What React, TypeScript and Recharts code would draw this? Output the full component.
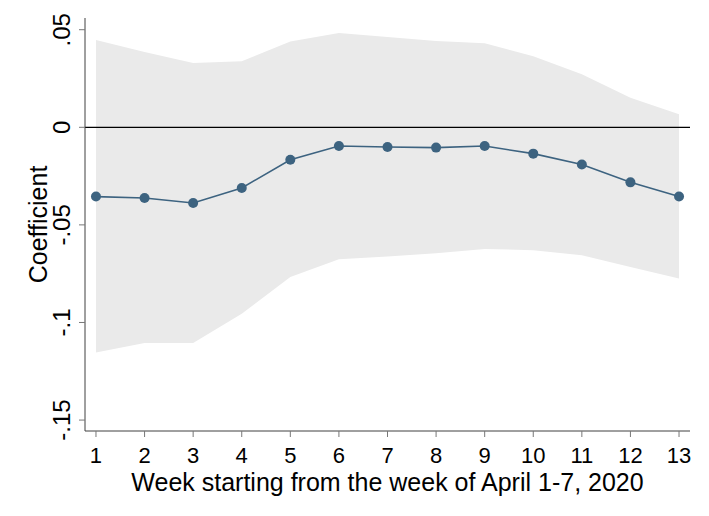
import React from "react";
import {
  Area,
  ComposedChart,
  Line,
  ReferenceLine,
  XAxis,
  YAxis,
  Label,
} from "recharts";

const weeks = [1, 2, 3, 4, 5, 6, 7, 8, 9, 10, 11, 12, 13];
const coef = [
  -0.0355, -0.0362, -0.0388, -0.0311, -0.0166, -0.0096, -0.0101, -0.0104,
  -0.0096, -0.0135, -0.0191, -0.0282, -0.0355,
];
const ciLow = [
  -0.1154, -0.1105, -0.1105, -0.0955, -0.0767, -0.0676, -0.0662, -0.0645,
  -0.0623, -0.063, -0.0656, -0.0716, -0.0775,
];
const ciHigh = [
  0.0447, 0.0386, 0.0329, 0.0338, 0.0439, 0.0483, 0.0463, 0.0442, 0.043,
  0.0364, 0.0272, 0.0152, 0.0067,
];
const yTicks = [-0.15, -0.1, -0.05, 0, 0.05];

const rows = weeks.map((w, i) => ({
  week: w,
  coef: coef[i],
  ci: [ciLow[i], ciHigh[i]],
}));

const FONT = "'Liberation Sans', Arial, sans-serif";

function stataNum(v: number): string {
  if (v === 0) return "0";
  const s = String(Math.round(v * 1000) / 1000);
  return s.replace("0.", ".");
}

// y tick labels read bottom-to-top, like Stata
function YTick(props: any) {
  const { y, payload } = props;
  const bx = 70;
  return (
    <text
      x={bx}
      y={y}
      transform={`rotate(-90 ${bx} ${y})`}
      textAnchor="middle"
      fontSize={24}
      fontFamily={FONT}
      fill="#000"
    >
      {stataNum(payload.value)}
    </text>
  );
}

function XTick(props: any) {
  const { x, payload } = props;
  return (
    <text
      x={x}
      y={463}
      textAnchor="middle"
      fontSize={22}
      fontFamily={FONT}
      fill="#000"
    >
      {payload.value}
    </text>
  );
}

function XTitle(props: any) {
  const { viewBox } = props;
  const cx = viewBox.x + viewBox.width / 2;
  return (
    <text x={cx} y={491} textAnchor="middle" fontSize={25} fontFamily={FONT} fill="#000">
      Week starting from the week of April 1-7, 2020
    </text>
  );
}

function YTitle(props: any) {
  const { viewBox } = props;
  const cy = viewBox.y + viewBox.height / 2;
  const bx = 47;
  return (
    <text
      x={bx}
      y={cy}
      transform={`rotate(-90 ${bx} ${cy})`}
      textAnchor="middle"
      fontSize={25}
      fontFamily={FONT}
      fill="#000"
    >
      Coefficient
    </text>
  );
}

export default function App() {
  return (
    <div style={{ position: "absolute", left: 0, top: 0, background: "#fff" }}>
      <ComposedChart
        width={709}
        height={516}
        data={rows}
        margin={{ top: 18, right: 19, left: 0, bottom: 0 }}
      >
        <Area
          dataKey="ci"
          type="linear"
          stroke="none"
          fill="#eaeaea"
          fillOpacity={1}
          isAnimationActive={false}
        />
        <ReferenceLine y={0} stroke="#000" strokeWidth={1.3} />
        <Line
          dataKey="coef"
          type="linear"
          stroke="#3d6380"
          strokeWidth={1.6}
          dot={{ r: 5, fill: "#3d6380", stroke: "#3d6380", strokeWidth: 0 }}
          isAnimationActive={false}
        />
        <XAxis
          dataKey="week"
          type="number"
          domain={[0.774, 13.226]}
          ticks={weeks}
          interval={0}
          height={85}
          stroke="#404040"
          tickLine={{ stroke: "#777" }}
          tickSize={6}
          tick={<XTick />}
        >
          <Label content={<XTitle />} position="center" />
        </XAxis>
        <YAxis
          type="number"
          domain={[-0.1556, 0.056]}
          ticks={yTicks}
          interval={0}
          width={85}
          stroke="#404040"
          tickLine={{ stroke: "#777" }}
          tickSize={6}
          tick={<YTick />}
        >
          <Label content={<YTitle />} position="center" />
        </YAxis>
      </ComposedChart>
    </div>
  );
}
